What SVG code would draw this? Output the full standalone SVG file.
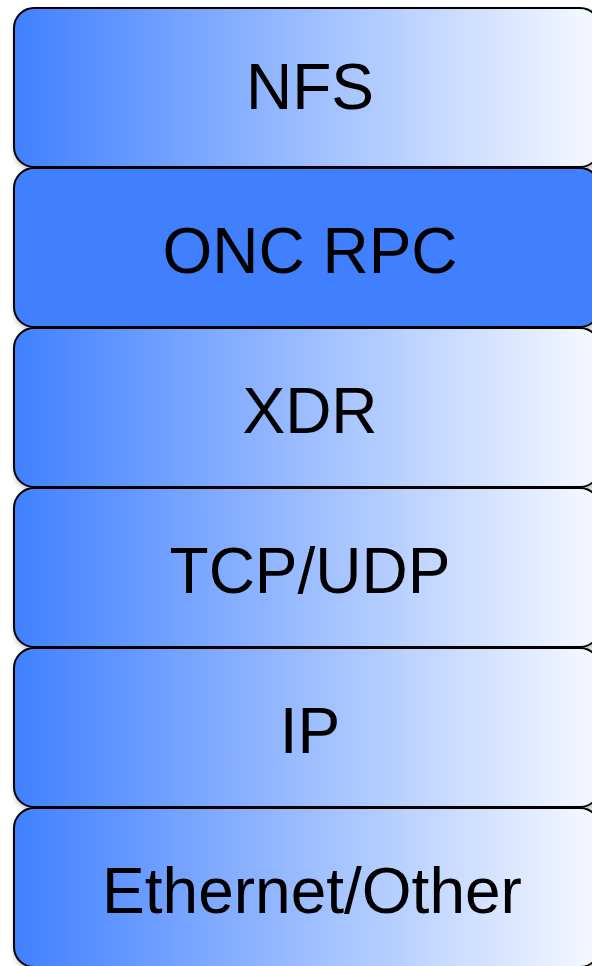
<svg xmlns="http://www.w3.org/2000/svg" width="592" height="966" viewBox="0 0 592 966">
  <defs>
    <linearGradient id="fade" x1="0" y1="0" x2="1" y2="0">
      <stop offset="0" stop-color="#4080ff"/>
      <stop offset="1" stop-color="#f8faff"/>
    </linearGradient>
    <filter id="shadow" x="-5%" y="-5%" width="110%" height="115%">
      <feDropShadow dx="1" dy="3" stdDeviation="2.5" flood-color="#000" flood-opacity="0.25"/>
    </filter>
  </defs>
  <style>
    .layer { stroke: #000; stroke-width: 2; filter: url(#shadow); }
    .fade { fill: url(#fade); }
    .solid { fill: #4080ff; }
    .label { font-family: "Liberation Sans", Arial, sans-serif; font-size: 64px; fill: #000; text-anchor: middle; }
  </style>
  <rect width="592" height="966" fill="#fff"/>
  <g id="connectors"/>
  <g id="nfs">
    <rect class="layer fade" x="14" y="8" width="586" height="159" rx="20" ry="20"/>
    <text class="label" x="310" y="109">NFS</text>
  </g>
  <g id="onc-rpc">
    <rect class="layer solid" x="14" y="168" width="586" height="159" rx="20" ry="20"/>
    <text class="label" x="310" y="273">ONC RPC</text>
  </g>
  <g id="xdr">
    <rect class="layer fade" x="14" y="328" width="586" height="159" rx="20" ry="20"/>
    <text class="label" x="310" y="433">XDR</text>
  </g>
  <g id="tcp-udp">
    <rect class="layer fade" x="14" y="488" width="586" height="159" rx="20" ry="20"/>
    <text class="label" x="310" y="593">TCP/UDP</text>
  </g>
  <g id="ip">
    <rect class="layer fade" x="14" y="648" width="586" height="159" rx="20" ry="20"/>
    <text class="label" x="310" y="753">IP</text>
  </g>
  <g id="ethernet-other">
    <rect class="layer fade" x="14" y="808" width="586" height="159" rx="20" ry="20"/>
    <text class="label" x="312" y="913">Ethernet/Other</text>
  </g>
</svg>
